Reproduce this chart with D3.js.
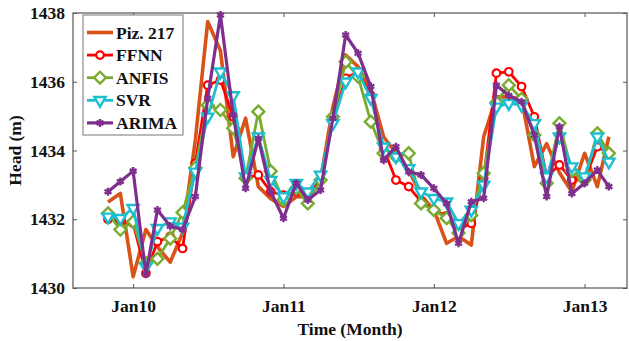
<!DOCTYPE html>
<html>
<head>
<meta charset="utf-8">
<script src="https://cdn.jsdelivr.net/npm/d3@7"></script>
<style>
  body { margin: 0; background: #fff; }
  svg { display: block; }
  text { font-family: "Liberation Serif", "Times New Roman", serif; font-weight: bold; fill: #111; }
</style>
</head>
<body>
<div id="chart"></div>
<script>
// monthly values, Nov 2009 .. Mar 2013
const months = d3.timeMonths(new Date(2009, 10, 1), new Date(2013, 3, 1));

const piz217 = [1432.5, 1432.75, 1430.33, 1431.7, 1431.2, 1430.75, 1431.6, 1434.3, 1437.75, 1436.9, 1433.82, 1434.94,
  1432.95, 1432.6, 1432.37, 1432.65, 1432.66, 1433.14, 1435.27, 1436.78, 1436.44, 1435.76, 1434.4, 1433.92,
  1433.43, 1432.7, 1432.27, 1431.3, 1431.5, 1431.25, 1434.4, 1435.56, 1435.56, 1435.5, 1433.53, 1434.2,
  1433.35, 1432.8, 1433.92, 1432.95, 1434.4];
const ffnn = [1432.0, 1431.95, 1431.88, 1430.43, 1431.35, 1431.5, 1431.15, 1433.63, 1435.9, 1436.05, 1434.98, 1433.2,
  1433.29, 1432.8, 1432.7, 1432.8, 1432.66, 1433.14, 1434.89, 1436.1, 1436.29, 1435.6, 1434.06, 1433.14,
  1432.95, 1432.51, 1432.27, 1432.1, 1431.7, 1431.88, 1433.19, 1436.25, 1436.29, 1435.86, 1434.98, 1433.24,
  1433.58, 1433.14, 1433.14, 1434.11, 1433.92];
const anfis = [1432.17, 1431.7, 1431.93, 1430.72, 1430.85, 1431.44, 1432.2, 1433.5, 1435.32, 1435.18, 1434.65, 1433.19,
  1435.13, 1433.4, 1432.56, 1432.9, 1432.46, 1433.14, 1434.98, 1436.58, 1436.15, 1434.84, 1433.92, 1433.82,
  1433.92, 1432.46, 1432.27, 1432.03, 1431.6, 1432.12, 1433.34, 1435.4, 1435.9, 1435.5, 1434.45, 1433.05,
  1434.79, 1433.4, 1433.14, 1434.5, 1433.92];
const svr = [1432.07, 1432.03, 1432.32, 1430.62, 1431.74, 1431.93, 1431.78, 1433.38, 1434.98, 1436.29, 1435.6, 1433.24,
  1434.4, 1433.14, 1432.66, 1433.05, 1432.8, 1433.29, 1434.79, 1436.0, 1436.29, 1435.52, 1434.11, 1433.82,
  1433.48, 1432.8, 1432.61, 1432.51, 1431.88, 1432.27, 1433.0, 1435.27, 1435.37, 1435.32, 1434.79, 1433.24,
  1434.4, 1433.53, 1433.24, 1434.4, 1433.67];
const arima = [1432.8, 1433.1, 1433.4, 1430.4, 1432.27, 1431.8, 1431.7, 1432.66, 1435.52, 1437.94, 1435.03, 1432.9,
  1434.35, 1432.8, 1432.03, 1433.05, 1432.56, 1432.85, 1434.94, 1437.36, 1436.83, 1435.86, 1433.72, 1434.11,
  1433.38, 1433.29, 1432.9, 1432.46, 1431.3, 1432.51, 1432.61, 1435.9, 1435.6, 1435.42, 1434.45, 1432.66,
  1434.69, 1432.75, 1433.05, 1433.43, 1432.95];

const seriesNames = ['Piz. 217', 'FFNN', 'ANFIS', 'SVR', 'ARIMA'];
const yTicks = [1430, 1432, 1434, 1436, 1438];
const xTicks = [new Date(2010, 0, 1), new Date(2011, 0, 1), new Date(2012, 0, 1), new Date(2013, 0, 1)];
const xTickLabels = ['Jan10', 'Jan11', 'Jan12', 'Jan13'];

const width = 629, height = 341;
const margin = { top: 13, right: 2, bottom: 53, left: 73 };
const w = width - margin.left - margin.right;
const h = height - margin.top - margin.bottom;

const series = [
  { name: seriesNames[0], values: piz217, color: '#D95319', lw: 3.6, marker: null },
  { name: seriesNames[1], values: ffnn, color: '#FF0000', lw: 2.8, marker: 'circle' },
  { name: seriesNames[2], values: anfis, color: '#77AC30', lw: 2.8, marker: 'diamond' },
  { name: seriesNames[3], values: svr, color: '#1CBFD0', lw: 2.8, marker: 'triangle' },
  { name: seriesNames[4], values: arima, color: '#7E2F8E', lw: 3.2, marker: 'star' }
];

const svg = d3.select('#chart').append('svg')
  .attr('width', width).attr('height', height);
const g = svg.append('g').attr('transform', `translate(${margin.left},${margin.top})`);

const x = d3.scaleTime()
  .domain([new Date(2009, 7, 8), new Date(2013, 3, 14)])
  .range([0, w]);
const y = d3.scaleLinear().domain([1430, 1438]).range([h, 0]);

// frame
g.append('rect').attr('width', w).attr('height', h)
  .attr('fill', 'none').attr('stroke', '#777').attr('stroke-width', 1.5);

// axes (ticks inside)
const axisStyle = sel => {
  sel.select('.domain').remove();
  sel.selectAll('.tick line').attr('stroke', '#555').attr('stroke-width', 1);
  sel.selectAll('.tick text').attr('font-family', '"Liberation Serif", serif')
    .attr('font-weight', 'bold').attr('font-size', 17.5).attr('fill', '#111');
};
g.append('g').attr('transform', `translate(0,${h})`)
  .call(d3.axisBottom(x).tickValues(xTicks).tickFormat((d, i) => xTickLabels[i]).tickSizeInner(-4).tickPadding(12))
  .call(axisStyle);
g.append('g')
  .call(d3.axisTop(x).tickValues(xTicks).tickFormat('').tickSizeInner(-4))
  .call(axisStyle);
g.append('g')
  .call(d3.axisLeft(y).tickValues(yTicks).tickFormat(d3.format('d')).tickSizeInner(-4).tickPadding(8))
  .call(axisStyle);
g.append('g').attr('transform', `translate(${w},0)`)
  .call(d3.axisRight(y).tickValues(yTicks).tickFormat('').tickSizeInner(-4))
  .call(axisStyle);

// markers
function drawMarker(sel, type, color) {
  if (type === 'circle') {
    sel.append('circle').attr('r', 3.8).attr('fill', '#fff')
      .attr('stroke', color).attr('stroke-width', 2.2);
  } else if (type === 'diamond') {
    sel.append('path').attr('d', d3.symbol(d3.symbolDiamond2, 90)())
      .attr('fill', '#fff').attr('stroke', color).attr('stroke-width', 2.4);
  } else if (type === 'triangle') {
    sel.append('path').attr('d', d3.symbol(d3.symbolTriangle2, 90)())
      .attr('transform', 'rotate(180)')
      .attr('fill', '#fff').attr('stroke', color).attr('stroke-width', 2.4);
  } else if (type === 'star') {
    sel.append('path').attr('d', d3.symbol(d3.symbolAsterisk, 45)())
      .attr('fill', 'none').attr('stroke', color).attr('stroke-width', 2.4);
  }
}

const line = d3.line().x((d, i) => x(months[i])).y(d => y(d));

series.forEach(s => {
  const sg = g.append('g');
  sg.append('path').datum(s.values)
    .attr('d', line)
    .attr('fill', 'none').attr('stroke', s.color)
    .attr('stroke-width', s.lw).attr('stroke-linejoin', 'round');
  if (s.marker) {
    sg.selectAll('g.m').data(s.values).join('g')
      .attr('class', 'm')
      .attr('transform', (d, i) => `translate(${x(months[i])},${y(d)})`)
      .each(function () { drawMarker(d3.select(this), s.marker, s.color); });
  }
});

// legend
const lg = g.append('g').attr('transform', 'translate(10,2)');
lg.append('rect').attr('width', 100).attr('height', 120)
  .attr('fill', '#fff').attr('stroke', '#777').attr('stroke-width', 1);
series.forEach((s, i) => {
  const row = lg.append('g').attr('transform', `translate(0,${17.5 + i * 22.6})`);
  row.append('line').attr('x1', 4).attr('x2', 30)
    .attr('stroke', s.color).attr('stroke-width', s.lw);
  if (s.marker) drawMarker(row.append('g').attr('transform', 'translate(17,0)'), s.marker, s.color);
  row.append('text').attr('x', 33).attr('dy', '0.35em')
    .attr('font-size', 17.5).text(s.name);
});

// axis titles
svg.append('text')
  .attr('x', margin.left + w / 2).attr('y', 335)
  .attr('text-anchor', 'middle').attr('font-size', 17.5)
  .text('Time (Month)');
svg.append('text')
  .attr('transform', `translate(21,${margin.top + h / 2}) rotate(-90)`)
  .attr('text-anchor', 'middle').attr('font-size', 17.5)
  .text('Head (m)');
</script>
</body>
</html>
